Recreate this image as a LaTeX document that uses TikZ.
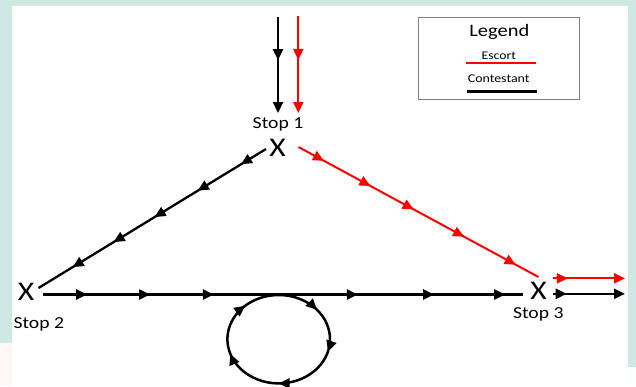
\documentclass[tikz,border=0pt]{standalone}
\usepackage{fontspec}
\setmainfont{Carlito}[FakeStretch=1.17]
\usetikzlibrary{arrows.meta,decorations.markings}
\definecolor{bgteal}{RGB}{206,232,228}
\definecolor{escred}{RGB}{255,0,0}
\definecolor{legendgray}{RGB}{128,128,128}
\tikzset{
  midtip/.style={postaction={decorate,decoration={markings,
      mark=at position #1 with {\arrow{Triangle[length=11pt,width=10pt]}}}}},
  endtip/.style={-{Triangle[length=11pt,width=10pt]}},
  contestant/.style={line width=2.3pt, color=black},
  escort/.style={line width=2pt, color=escred},
  stoplabel/.style={font=\fontsize{16.8}{20}\selectfont, inner sep=0pt, anchor=base},
  stopx/.style={font=\fontsize{27}{30}\selectfont, inner sep=0pt},
  legtext/.style={inner sep=0pt, anchor=base},
}
\begin{document}
\begin{tikzpicture}[x=1pt,y=-1pt]
\useasboundingbox (0,0) rectangle (636,386);
% background
\fill[bgteal] (0,0) rectangle (636,386);
\fill[white] (12,6) rectangle (628,386);
\fill[white!97!red] (0,343) rectangle (12,386);
\fill[white!96!bgteal] (628,367) rectangle (636,386);

% stops
\node[stopx] (s1) at (277.5,147.5) {X};
\node[stopx] (s2) at (26,291.5) {X};
\node[stopx] (s3) at (538.5,291.2) {X};
\node[stoplabel] (l1) at (278,128.3) {Stop 1};
\node[stoplabel] (l2) at (38.8,328.3) {Stop 2};
\node[stoplabel] (l3) at (538.3,318.5) {Stop 3};

% connector end points
\coordinate (ctop) at (278,17);
\coordinate (cin) at (278,113);
\coordinate (etop) at (298.3,15.7);
\coordinate (ein) at (298.3,113);
\coordinate (d1a) at (266,149);
\coordinate (d1b) at (38.5,288);
\coordinate (r1a) at (298.5,147);
\coordinate (r1b) at (538.5,277);
\coordinate (h2a) at (43,294.5);
\coordinate (h2b) at (523,294.5);
\coordinate (eo1) at (552.7,278.3);
\coordinate (eo2) at (625,278.3);
\coordinate (co1) at (553,293.8);
\coordinate (co2) at (625,293.8);
\coordinate (loopc) at (278.7,339.2);

% incoming arrows
\draw[contestant, endtip, midtip=0.45] (ctop) -- (cin);
\draw[escort, endtip, midtip=0.455] (etop) -- (ein);

% stop 1 to stop 2 (contestant)
\draw[contestant, midtip=0.11, midtip=0.30, midtip=0.49, midtip=0.67, midtip=0.85] (d1a) -- (d1b);
% stop 1 to stop 3 (escort)
\draw[escort, midtip=0.106, midtip=0.30, midtip=0.48, midtip=0.69, midtip=0.905] (r1a) -- (r1b);
% stop 2 to stop 3 (contestant)
\draw[contestant, midtip=0.092, midtip=0.223, midtip=0.356, midtip=0.656, midtip=0.815, midtip=0.963] (h2a) -- (h2b);

% loop
\draw[contestant, line width=2.5pt, midtip=0.053, midtip=0.312, midtip=0.464, midtip=0.672, midtip=0.872]
  (loopc) ++(-150:51.3 and 44.2) arc[start angle=-150, end angle=210, x radius=51.3, y radius=44.2];

% outgoing arrows
\draw[escort, endtip, midtip=0.21] (eo1) -- (eo2);
\draw[contestant, endtip, midtip=0.19] (co1) -- (co2);

% legend
\node[draw=legendgray, line width=1pt, minimum width=161pt, minimum height=82pt, inner sep=0pt] (legend) at (498.5,58) {};
\node[legtext, font=\fontsize{17.5}{20}\selectfont] (legt) at (499.3,36.5) {Legend};
\node[legtext, font=\fontsize{11.7}{14}\selectfont] (lege) at (498.8,59.3) {Escort};
\node[legtext, font=\fontsize{11.9}{14}\selectfont] (legc) at (498.7,82.7) {Contestant};
\coordinate (le1) at (465.5,62.7);
\coordinate (le2) at (536,62.7);
\coordinate (lc1) at (467,91.3);
\coordinate (lc2) at (537,91.3);
\draw[escort] (le1) -- (le2);
\draw[contestant, line width=2.5pt] (lc1) -- (lc2);
\end{tikzpicture}
\end{document}
